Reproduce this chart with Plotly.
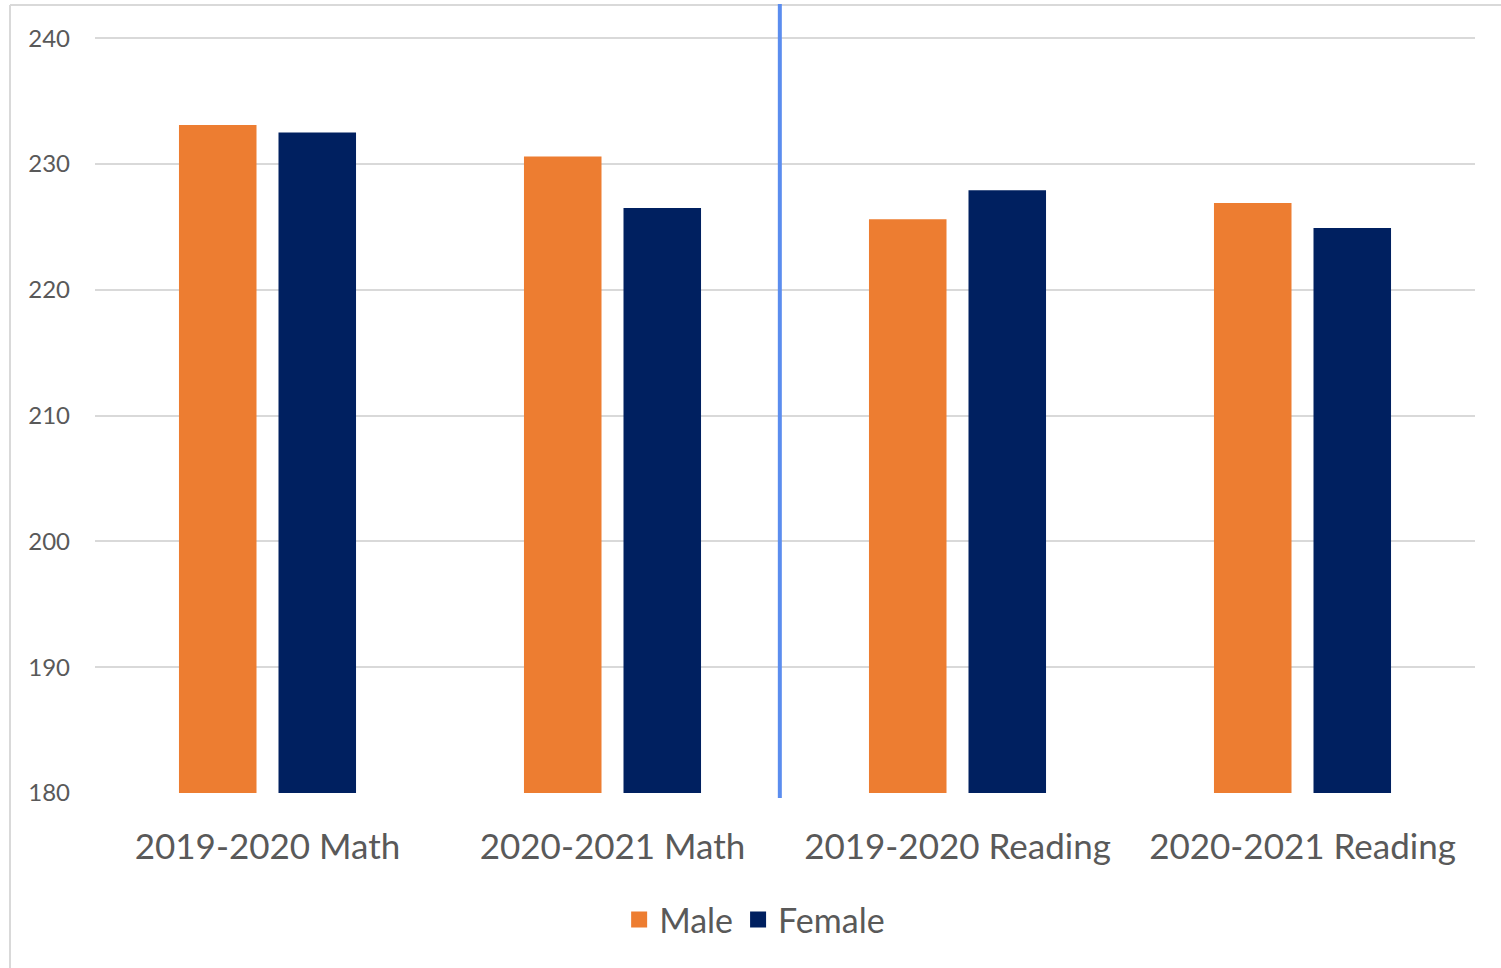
import plotly.graph_objects as go

categories = ["2019-2020 Math", "2020-2021 Math", "2019-2020 Reading", "2020-2021 Reading"]
male = [233.1, 230.6, 225.6, 226.9]
female = [232.5, 226.5, 227.9, 224.9]
y_ticks = [180, 190, 200, 210, 220, 230, 240]
series_names = ["Male", "Female"]
series_colors = ["#ED7D31", "#002060"]

W, H = 1501, 968
YMIN, YMAX = 180, 240.25
ML, MR, MT, MB = 95, 26, 35, 175
PW, PH = W - ML - MR, H - MT - MB

def px_x(px):
    return (px - ML) / PW

def px_y(py):
    return (H - MB - py) / PH

fig = go.Figure()
for name, vals, col in zip(series_names, [male, female], series_colors):
    fig.add_trace(go.Bar(name=name, x=categories, y=vals, showlegend=False,
                         marker=dict(color=col, line=dict(width=0))))
# legend entries with larger square swatches
for name, col in zip(series_names, series_colors):
    fig.add_trace(go.Scatter(name=name, x=[None], y=[None], mode="markers",
                             marker=dict(symbol="square", size=16, color=col), showlegend=True))

font_family = "Lato, Open Sans, sans-serif"

fig.update_layout(
    width=W, height=H,
    margin=dict(l=ML, r=MR, t=MT, b=MB, pad=0),
    paper_bgcolor="white", plot_bgcolor="white",
    barmode="group", bargap=0.423, bargroupgap=0.221,
    font=dict(family=font_family, color="#595959"),
    legend=dict(orientation="h", x=0.478, xanchor="center", y=px_y(920), yanchor="middle",
                font=dict(size=34, color="#595959"), itemwidth=30, traceorder="normal"),
    xaxis=dict(showgrid=False, showline=False, zeroline=False, ticks="",
               tickfont=dict(size=35, color="#595959"), ticklabelstandoff=30),
    yaxis=dict(range=[YMIN, YMAX], tickvals=y_ticks, showgrid=True, gridcolor="#D9D9D9", gridwidth=1.5,
               zeroline=False, showline=False, ticks="",
               tickfont=dict(size=24, color="#595959"), ticklabelstandoff=24),
    shapes=[
        dict(type="line", xref="paper", yref="paper", x0=px_x(10), x1=px_x(1501), y0=px_y(5), y1=px_y(5),
             line=dict(color="#D9D9D9", width=2)),
        dict(type="line", xref="paper", yref="paper", x0=px_x(10), x1=px_x(10), y0=px_y(5), y1=px_y(968),
             line=dict(color="#D9D9D9", width=2)),
        dict(type="line", xref="x", yref="paper", x0=1.485, x1=1.485, y0=px_y(4), y1=px_y(798),
             line=dict(color="#5B8DEF", width=4)),
    ],
)

fig.write_html("out.html")
